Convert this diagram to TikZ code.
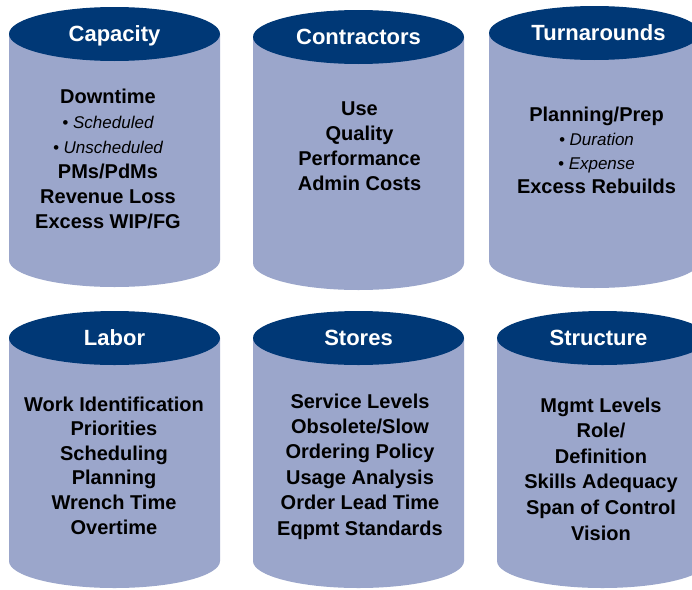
\documentclass[tikz,border=0pt]{standalone}
\usepackage{fontspec}
\setmainfont{Liberation Sans}
\usetikzlibrary{shapes.geometric}
\definecolor{drumtop}{RGB}{0,56,118}
\definecolor{drumbody}{RGB}{155,166,203}
\tikzset{
  drumlid/.style={ellipse,fill=drumtop,text=white,inner sep=0pt,
    minimum width=211pt,minimum height=54pt,
    text height=15.8pt,text depth=0pt,
    font=\fontsize{22}{26}\selectfont\bfseries},
  drumtext/.style={text=black,align=center,inner sep=0pt,
    font=\fontsize{20}{25}\selectfont\bfseries},
}
% body of a drum: centre x, lid centre y, base centre y
\newcommand\drumbodyat[3]{%
  \fill[drumbody] (#1-105.5,#2) -- (#1-105.5,#3)
    arc[start angle=180,end angle=0,x radius=105.5,y radius=27]
    -- (#1+105.5,#2) -- cycle;}
\newcommand\sub[1]{{\fontsize{17}{25}\selectfont\mdseries\itshape\textbullet\ #1}}
\begin{document}
\begin{tikzpicture}[x=1pt,y=-1pt]
\useasboundingbox (0,0) rectangle (692,589);
\clip (0,0) rectangle (692,589);
\fill[white] (0,0) rectangle (692,589);

% top row
\drumbodyat{114.5}{34}{260}
\node[drumlid] (capacity) at (114.5,34) {Capacity};
\node[drumtext] (capacitytext) at (108,159)
  {Downtime\\ \sub{Scheduled}\\ \sub{Unscheduled}\\ PMs/PdMs\\ Revenue Loss\\ Excess WIP/FG};

\drumbodyat{358.5}{37}{263}
\node[drumlid] (contractors) at (358.5,37) {Contractors};
\node[drumtext] (contractorstext) at (359.5,146)
  {Use\\ Quality\\ Performance\\ Admin Costs};

\drumbodyat{594.5}{33}{261}
\node[drumlid] (turnarounds) at (594.5,33) {\hspace*{8pt}Turnarounds};
\node[drumtext,font=\fontsize{20}{24}\selectfont\bfseries] (turnaroundstext) at (596.5,150.5)
  {Planning/Prep\\ \sub{Duration}\\ \sub{Expense}\\ Excess Rebuilds};

% bottom row
\drumbodyat{114.5}{338}{561}
\node[drumlid] (labor) at (114.5,338) {Labor};
\node[drumtext,font=\fontsize{20}{24.6}\selectfont\bfseries] (labortext) at (114,465.5)
  {Work Identification\\ Priorities\\ Scheduling\\ Planning\\ Wrench Time\\ Overtime};

\drumbodyat{358.5}{338}{561}
\node[drumlid] (stores) at (358.5,338) {Stores};
\node[drumtext,font=\fontsize{20}{25.4}\selectfont\bfseries] (storestext) at (360,466.5)
  {Service Levels\\ Obsolete/Slow\\ Ordering Policy\\ Usage Analysis\\ Order Lead Time\\ Eqpmt Standards};

\drumbodyat{602.5}{338}{561}
\node[drumlid] (structure) at (602.5,338) {\hspace*{-8pt}Structure};
\node[drumtext,font=\fontsize{20}{25.6}\selectfont\bfseries] (structuretext) at (601,469)
  {Mgmt Levels\\ Role/\\ Definition\\ Skills Adequacy\\ Span of Control\\ Vision};
\end{tikzpicture}
\end{document}
